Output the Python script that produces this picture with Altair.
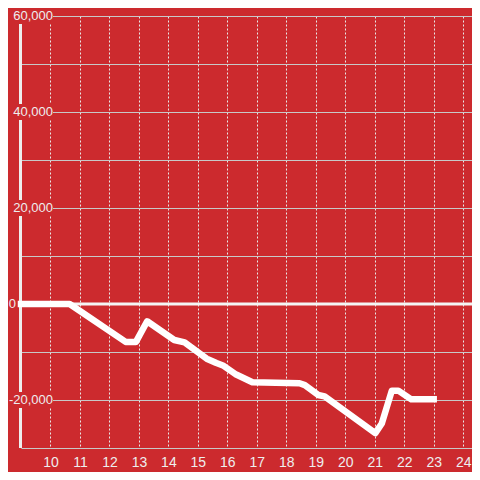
import altair as alt
import pandas as pd

# ---- data ----
hours = [9, 10.65, 12.55, 12.9, 13.28, 14.2, 14.55, 15.3, 15.63, 15.85, 16.3, 16.85,
         18.45, 18.63, 19.08, 19.3, 21.02, 21.24, 21.58, 21.8, 22.24, 23]
values = [0, 0, -7900, -7900, -3600, -7500, -8000, -11400, -12300, -12800, -14700, -16300,
          -16500, -16900, -18950, -19250, -26900, -24900, -18050, -18050, -19860, -19860]

x_ticks = list(range(10, 25))
y_grid = list(range(-30000, 60001, 10000))
y_label_values = [60000, 40000, 20000, -20000]
y_label_texts = ["60,000", "40,000", "20,000", "-20,000"]
zero_value = [0]
zero_text = ["0"]
axis_span_lo = [-30000]
axis_span_hi = [60000]

BG = "#cc2a2e"
FG = "#eeeeee"
FONT = "Liberation Sans"

line_df = pd.DataFrame({"x": hours, "y": values})
lab_df = pd.DataFrame({"y": y_label_values, "t": y_label_texts})
zero_df = pd.DataFrame({"y": zero_value, "t": zero_text})
span_df = pd.DataFrame({"y": axis_span_lo, "y2": axis_span_hi})

xscale = alt.Scale(domain=[9, 24.3], nice=False, zero=False)
yscale = alt.Scale(domain=[-30000, 60000], nice=False, zero=False)

xaxis = alt.Axis(values=x_ticks, grid=True, gridDash=[2, 2], gridColor="#e8e8e8",
                 gridWidth=1, domain=False, ticks=False, labelColor=FG,
                 labelFontSize=14, labelFont=FONT, labelPadding=7, labelFlush=False,
                 title=None)
yaxis = alt.Axis(values=y_grid, grid=True, gridColor="#c8c8c8", gridWidth=1,
                 domain=False, ticks=False, labels=False, title=None)

Y = lambda: alt.Y("y:Q", scale=yscale, axis=yaxis)

zero_rule = alt.Chart(zero_df).mark_rule(color="#f4f4f4", strokeWidth=3).encode(y=Y())

domain_rule = alt.Chart(span_df).mark_rule(color=FG, strokeWidth=3).encode(
    x=alt.value(-0.5), y=Y(), y2="y2:Q")

boxes = alt.Chart(lab_df).mark_point(
    shape="M-1,-0.3H1V0.3H-1Z", filled=True, color=BG, opacity=1, size=2809,
    strokeWidth=0).encode(x=alt.value(5.5), y=Y())

texts = alt.Chart(lab_df).mark_text(
    align="right", baseline="middle", fontSize=13, font=FONT, color=FG).encode(
    x=alt.value(32), y=Y(), text="t:N")

ztext = alt.Chart(zero_df).mark_text(
    align="right", baseline="middle", fontSize=13, font=FONT, color=FG).encode(
    x=alt.value(-5), y=Y(), text="t:N")

line = alt.Chart(line_df).mark_line(
    color="#ffffff", strokeWidth=6.5, strokeCap="square", strokeJoin="round").encode(
    x=alt.X("x:Q", scale=xscale, axis=xaxis), y=Y())

chart = alt.layer(zero_rule, domain_rule, boxes, texts, ztext, line).properties(
    width=451, height=432,
    autosize=alt.AutoSizeParams(type="none"),
    padding={"left": 13, "top": 8, "right": 0, "bottom": 24},
    background=BG,
).configure_view(strokeWidth=0, fill=BG)

chart.save("out.html", embed_options={"renderer": "svg", "actions": False})
